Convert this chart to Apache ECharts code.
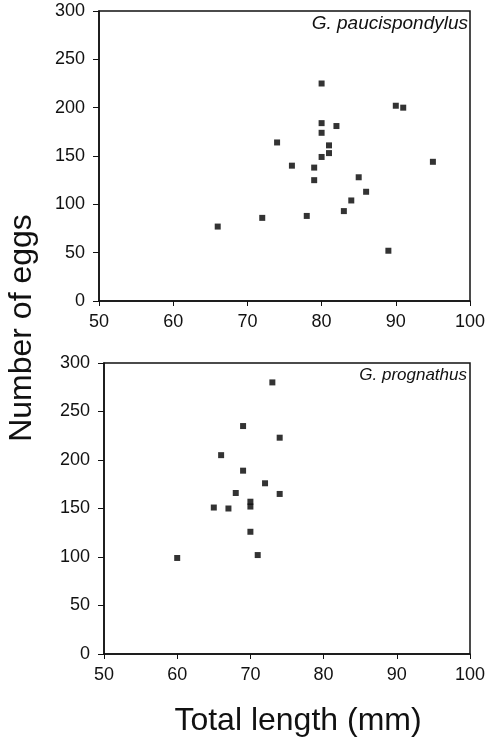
<!DOCTYPE html>
<html>
<head>
<meta charset="utf-8">
<script src="https://cdn.jsdelivr.net/npm/echarts@6/dist/echarts.min.js"></script>
<style>
html,body{margin:0;padding:0;background:#fff;}
#chart{width:496px;height:743px;}
</style>
</head>
<body>
<div id="chart"></div>
<script>
// G. paucispondylus: total length (mm) and number of eggs
const paucLength = [66, 72, 74, 76, 78, 79, 79, 80, 80, 80, 80, 81, 81, 82, 83, 84, 85, 86, 89, 90, 91, 95];
const paucEggs   = [77, 86, 164, 140, 88, 138, 125, 225, 184, 174, 149, 161, 153, 181, 93, 104, 128, 113, 52, 202, 200, 144];
// G. prognathus
const progLength = [60, 65, 66, 67, 68, 69, 69, 70, 70, 70, 71, 72, 73, 74, 74];
const progEggs   = [99, 151, 205, 150, 166, 235, 189, 157, 152, 126, 102, 176, 280, 223, 165];

const speciesLabels = ['G. paucispondylus', 'G. prognathus'];
const yTitle = 'Number of eggs';
const xTitle = 'Total length (mm)';

const FONT = 'Liberation Sans';
const INK = '#111';

function pairs(xs, ys) { return xs.map((x, i) => [x, ys[i]]); }

function xAxisCfg(gi) {
  return {
    gridIndex: gi, type: 'value', min: 50, max: 100, interval: 10,
    axisLine: { show: true, onZero: false, lineStyle: { color: INK, width: 1.5 } },
    axisTick: { show: true, length: 5, inside: false, lineStyle: { color: INK, width: 1 } },
    axisLabel: { color: INK, fontFamily: FONT, fontSize: 18, margin: 12 },
    splitLine: { show: false }
  };
}
function yAxisCfg(gi) {
  return {
    gridIndex: gi, type: 'value', min: 0, max: 300, interval: 50,
    axisLine: { show: true, onZero: false, lineStyle: { color: INK, width: 1.5 } },
    axisTick: { show: true, length: 6, inside: false, lineStyle: { color: INK, width: 1 } },
    axisLabel: { color: INK, fontFamily: FONT, fontSize: 18, margin: 14 },
    splitLine: { show: false }
  };
}

const chart = echarts.init(document.getElementById('chart'), null, { renderer: 'canvas' });
chart.setOption({
  backgroundColor: '#fff',
  animation: false,
  grid: [
    { left: 99, width: 371, top: 11, height: 290, show: true, borderColor: INK, borderWidth: 1.5, backgroundColor: 'transparent' },
    { left: 104, width: 366, top: 363, height: 291, show: true, borderColor: INK, borderWidth: 1.5, backgroundColor: 'transparent' }
  ],
  xAxis: [xAxisCfg(0), xAxisCfg(1)],
  yAxis: [yAxisCfg(0), yAxisCfg(1)],
  series: [
    { type: 'scatter', xAxisIndex: 0, yAxisIndex: 0, symbol: 'rect', symbolSize: 6,
      itemStyle: { color: '#000' }, data: pairs(paucLength, paucEggs) },
    { type: 'scatter', xAxisIndex: 1, yAxisIndex: 1, symbol: 'rect', symbolSize: 6,
      itemStyle: { color: '#000' }, data: pairs(progLength, progEggs) }
  ],
  graphic: [
    { type: 'text', right: 28, top: 14,
      style: { text: speciesLabels[0], fill: INK, font: 'italic 19px "Liberation Sans"' } },
    { type: 'text', right: 29, top: 367,
      style: { text: speciesLabels[1], fill: INK, font: 'italic 17px "Liberation Sans"' } },
    { type: 'text', x: 22, y: 328, rotation: Math.PI / 2,
      style: { text: yTitle, fill: INK, font: '32px "Liberation Sans"', align: 'center', verticalAlign: 'middle' } },
    { type: 'text', x: 298, y: 721,
      style: { text: xTitle, fill: INK, font: '32px "Liberation Sans"', align: 'center', verticalAlign: 'middle' } }
  ]
});
</script>
</body>
</html>
